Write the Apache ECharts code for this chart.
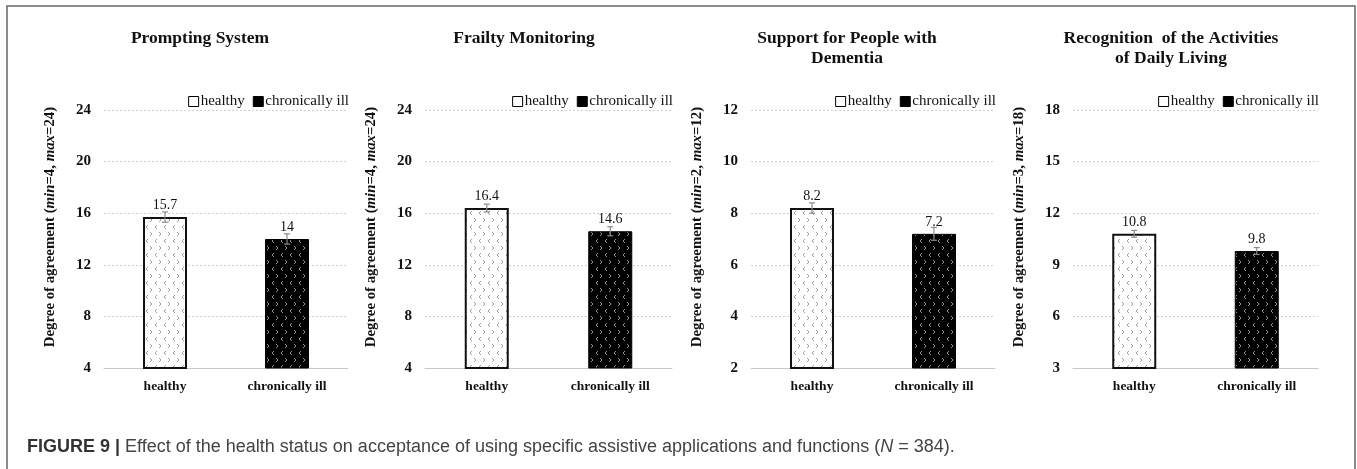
<!DOCTYPE html>
<html>
<head>
<meta charset="utf-8">
<script src="https://cdn.jsdelivr.net/npm/echarts@6/dist/echarts.min.js"></script>
<style>
  html, body { margin: 0; padding: 0; background: #fff; }
  #chart { width: 1357px; height: 469px; }
</style>
</head>
<body>
<div id="chart"></div>
<script>
// 데이터 — 그림에서 읽은 값
const categories = ["healthy", "chronically ill"];
const panelTitles = [
  "Prompting System",
  "Frailty Monitoring",
  "Support for People with\nDementia",
  "Recognition  of the Activities\nof Daily Living",
];
const healthyMeans = [15.7, 16.4, 8.2, 10.8];
const illMeans = [14, 14.6, 7.2, 9.8];
const healthyErr = [0.4, 0.3, 0.2, 0.2];
const illErr = [0.4, 0.35, 0.25, 0.2];
const axisMin = [4, 4, 2, 3];
const axisMax = [24, 24, 12, 18];
const axisStep = [4, 4, 2, 3];
const caption = "Effect of the health status on acceptance of using specific assistive applications and functions";

// 배치
const plotLeft = [104, 425, 751, 1073];
const plotRight = [348, 672, 995, 1318];
const titleX = [200, 524, 847, 1171];

const SERIF = '"Liberation Serif", "Times New Roman", serif';
const SANS = '"Liberation Sans", Arial, sans-serif';

// 막대 무늬(< > 모양) 캔버스
function chevronPattern(bg, fg) {
  const c = document.createElement("canvas");
  c.width = 9; c.height = 14;
  const ctx = c.getContext("2d");
  ctx.fillStyle = bg;
  ctx.fillRect(0, 0, 9, 14);
  ctx.strokeStyle = fg;
  ctx.lineWidth = 1;
  ctx.beginPath();
  ctx.moveTo(4, 1); ctx.lineTo(2, 3); ctx.lineTo(4, 5);      // <
  ctx.moveTo(6, 8); ctx.lineTo(8, 10); ctx.lineTo(6, 12);    // >
  ctx.stroke();
  return { image: c, repeat: "repeat" };
}
const healthyFill = chevronPattern("#ffffff", "#a0a0a0");
const illFill = chevronPattern("#000000", "#909090");

const grid = [], xAxis = [], yAxis = [], series = [], legend = [], title = [];

for (let i = 0; i < 4; i++) {
  grid.push({ left: plotLeft[i], width: plotRight[i] - plotLeft[i], top: 110, bottom: 101 });
  xAxis.push({
    gridIndex: i, type: "category", data: categories,
    axisLine: { lineStyle: { color: "#c8c8c8", width: 1 } },
    axisTick: { show: false },
    axisLabel: { fontFamily: SERIF, fontSize: 13.5, fontWeight: "bold", color: "#111", margin: 12 },
  });
  yAxis.push({
    gridIndex: i, type: "value",
    min: axisMin[i], max: axisMax[i], interval: axisStep[i],
    name: `{b|Degree of agreement (}{i|min}{b|=${axisMin[i]}, }{i|max}{b|=${axisMax[i]})}`,
    nameLocation: "middle", nameRotate: 90, nameGap: 46,
    nameTextStyle: {
      padding: [0, 0, 0, 24],
      rich: {
        b: { fontFamily: SERIF, fontSize: 14.8, fontWeight: "bold", color: "#111" },
        i: { fontFamily: SERIF, fontSize: 14.8, fontWeight: "bold", fontStyle: "italic", color: "#111" },
      },
    },
    axisLine: { show: false },
    axisTick: { show: false },
    axisLabel: { fontFamily: SERIF, fontSize: 15, fontWeight: "bold", color: "#111", margin: 13 },
    splitLine: { lineStyle: { color: "#cfcfcf", type: [2, 2], width: 1 } },
  });
  title.push({
    text: panelTitles[i], left: titleX[i] - 5, top: 23, textAlign: "center",
    textStyle: { fontFamily: SERIF, fontSize: 17.5, fontWeight: "bold", color: "#111", lineHeight: 20 },
  });
  legend.push({
    right: 1357 - plotRight[i] - 1, top: 94, padding: 0,
    itemWidth: 10, itemHeight: 10, itemGap: 8,
    textStyle: { fontFamily: SERIF, fontSize: 15, color: "#111", padding: [0, 0, 0, -3] },
    data: [
      { name: "healthy", icon: "rect", itemStyle: { color: "#fff", borderColor: "#000", borderWidth: 1 } },
      { name: "chronically ill", icon: "rect", itemStyle: { color: "#000", borderColor: "#000", borderWidth: 1 } },
    ],
  });

  const label = { show: true, position: "top", distance: 5, fontFamily: SERIF, fontSize: 14, color: "#111" };
  series.push({
    name: "healthy", type: "bar", xAxisIndex: i, yAxisIndex: i,
    barWidth: 44, barGap: "-100%",
    data: [healthyMeans[i], "-"],
    itemStyle: { color: healthyFill, borderColor: "#111", borderWidth: 2 },
    label,
  });
  series.push({
    name: "chronically ill", type: "bar", xAxisIndex: i, yAxisIndex: i,
    barWidth: 44, barGap: "-100%",
    data: ["-", illMeans[i]],
    itemStyle: { color: illFill, borderColor: "#000", borderWidth: 1 },
    label,
  });
  // 오차 막대
  series.push({
    type: "custom", xAxisIndex: i, yAxisIndex: i, silent: true, z: 5,
    data: [[0, healthyMeans[i], healthyErr[i]], [1, illMeans[i], illErr[i]]],
    renderItem: (params, api) => {
      const x = api.value(0), v = api.value(1), e = api.value(2);
      const hi = api.coord([x, v + e]);
      const lo = api.coord([x, v - e]);
      const style = { stroke: "#8a8a8a", lineWidth: 1.2 };
      return {
        type: "group",
        children: [
          { type: "line", shape: { x1: hi[0], y1: hi[1], x2: lo[0], y2: lo[1] }, style },
          { type: "line", shape: { x1: hi[0] - 3, y1: hi[1], x2: hi[0] + 3, y2: hi[1] }, style },
          { type: "line", shape: { x1: lo[0] - 3, y1: lo[1], x2: lo[0] + 3, y2: lo[1] }, style },
        ],
      };
    },
  });
}

// 캡션
title.push({
  text: `{b|FIGURE 9 |} {r|${caption} (}{i|N}{r| = 384).}`,
  left: 22, top: 433,
  textStyle: {
    fontWeight: "normal",
    rich: {
      b: { fontFamily: SANS, fontSize: 18, fontWeight: "bold", color: "#333" },
      r: { fontFamily: SANS, fontSize: 18, fontWeight: "normal", color: "#444" },
      i: { fontFamily: SANS, fontSize: 18, fontWeight: "normal", fontStyle: "italic", color: "#444" },
    },
  },
});

const chart = echarts.init(document.getElementById("chart"), null, { renderer: "canvas" });
chart.setOption({
  animation: false,
  title, grid, xAxis, yAxis, legend, series,
  graphic: [{
    type: "rect", silent: true,
    shape: { x: 7, y: 6, width: 1348, height: 500 },
    style: { fill: "none", stroke: "#666", lineWidth: 1.5 },
  }],
});
</script>
</body>
</html>
